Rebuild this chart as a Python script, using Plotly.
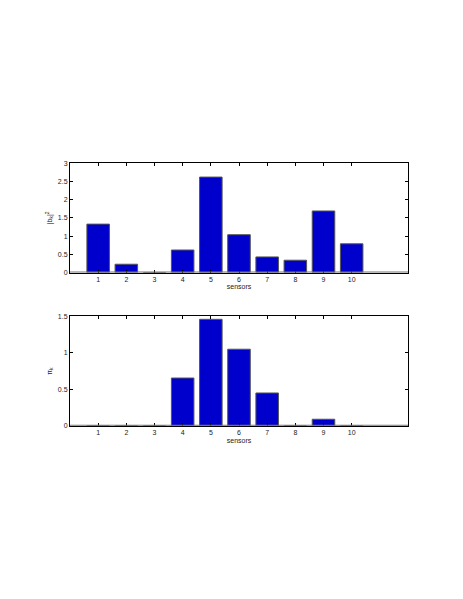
import plotly.graph_objects as go
from plotly.subplots import make_subplots

sensors = [1, 2, 3, 4, 5, 6, 7, 8, 9, 10]
b_sq = [1.33, 0.23, 0.0, 0.62, 2.62, 1.04, 0.43, 0.34, 1.69, 0.79]
pi_k = [0.0, 0.0, 0.0, 0.655, 1.46, 1.05, 0.45, 0.0, 0.09, 0.0]
top_ticks = [0, 0.5, 1, 1.5, 2, 2.5, 3]
bottom_ticks = [0, 0.5, 1, 1.5]

W, H = 463, 599
OFF = 8  # page body margin shifts the figure
FONT = dict(family="Liberation Sans, Arial, sans-serif", size=7, color="#222")

fig = make_subplots(rows=2, cols=1)

bar_style = dict(width=0.8, marker=dict(color="#0000CC", line=dict(color="#555", width=1)),
                 showlegend=False)
fig.add_trace(go.Bar(x=sensors, y=b_sq, **bar_style), row=1, col=1)
fig.add_trace(go.Bar(x=sensors, y=pi_k, **bar_style), row=2, col=1)

x_dom = [(70 - OFF) / W, (408 - OFF) / W]
ax_common = dict(showline=True, linecolor="black", linewidth=1, mirror="ticks",
                 ticks="inside", ticklen=3, tickcolor="black", showgrid=False,
                 zeroline=False, tickfont=FONT)

fig.update_xaxes(domain=x_dom, range=[0, 12], tickvals=sensors,
                 title=dict(text="sensors", font=FONT, standoff=2), **ax_common)
fig.update_yaxes(**ax_common)
fig.update_yaxes(domain=[1 - (271.7 - OFF) / H, 1 - (161 - OFF) / H], range=[0, 3],
                 tickvals=top_ticks,
                 title=dict(text="|b<sub>k</sub>|<sup>2</sup>", font=FONT, standoff=4),
                 row=1, col=1)
fig.update_yaxes(domain=[1 - (426.7 - OFF) / H, 1 - (316 - OFF) / H], range=[0, 1.5],
                 tickvals=bottom_ticks,
                 title=dict(text="π<sub>k</sub>", font=FONT, standoff=4),
                 row=2, col=1)

# grey baseline at zero like matlab bar plots
for r in (1, 2):
    fig.add_hline(y=0, line=dict(color="#777", width=2), row=r, col=1)

fig.update_layout(width=W, height=H, margin=dict(l=0, r=0, t=0, b=0),
                  plot_bgcolor="white", paper_bgcolor="white", bargap=0.2, font=FONT)
fig.write_html("out.html")
